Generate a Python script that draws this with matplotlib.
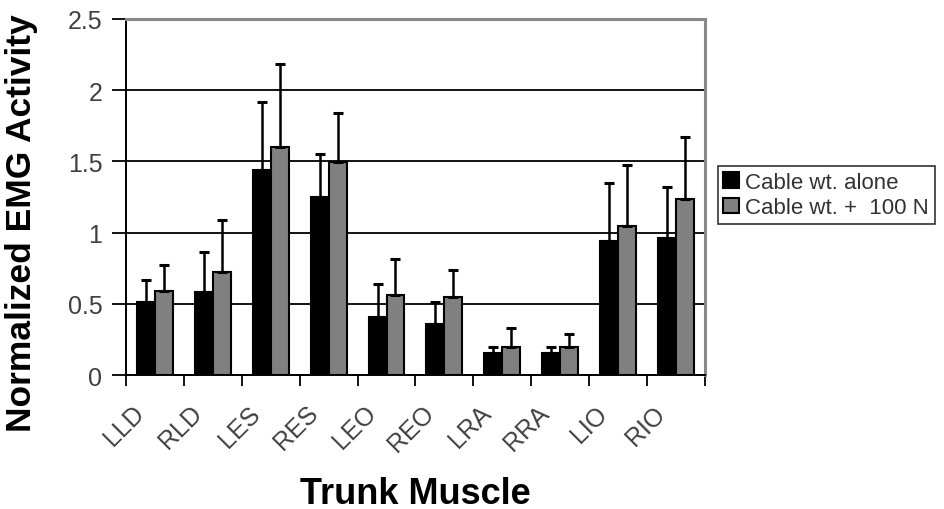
import numpy as np
import matplotlib
matplotlib.use('Agg')
import matplotlib.pyplot as plt
import matplotlib.transforms as mtransforms

plt.rcParams['font.family'] = ['Liberation Sans', 'DejaVu Sans']

muscles = ['LLD', 'RLD', 'LES', 'RES', 'LEO', 'REO', 'LRA', 'RRA', 'LIO', 'RIO']
# mean normalized EMG and upward SD
alone_mean = [0.51, 0.58, 1.44, 1.25, 0.41, 0.36, 0.155, 0.155, 0.94, 0.965]
alone_sd = [0.16, 0.285, 0.48, 0.30, 0.23, 0.15, 0.045, 0.045, 0.405, 0.355]
load_mean = [0.59, 0.725, 1.60, 1.495, 0.56, 0.55, 0.20, 0.20, 1.047, 1.237]
load_sd = [0.18, 0.363, 0.585, 0.345, 0.255, 0.185, 0.133, 0.087, 0.425, 0.435]
series_names = ['Cable wt. alone', 'Cable wt. +  100 N']
yticks = [0, 0.5, 1, 1.5, 2, 2.5]
ytick_labels = ['0', '0.5', '1', '1.5', '2', '2.5']

fig = plt.figure(figsize=(9.45, 5.1), dpi=100)
ax = fig.add_axes([0.1333, 0.2627, 0.6127, 0.6981])

x = np.arange(len(muscles))
w = 0.31
err_kw = dict(ecolor='black', elinewidth=1.8, capsize=3.3, capthick=2.2)

ax.bar(x - w / 2, alone_mean, w, color='black', edgecolor='black', linewidth=1.5,
       yerr=[np.zeros(len(x)), alone_sd], error_kw=err_kw, label=series_names[0], zorder=3)
ax.bar(x + w / 2, load_mean, w, color='#808080', edgecolor='black', linewidth=1.5,
       yerr=[np.zeros(len(x)), load_sd], error_kw=err_kw, label=series_names[1], zorder=3)

ax.set_xlim(-0.5, len(muscles) - 0.5)
ax.set_ylim(0, 2.5)
ax.set_yticks(yticks)
ax.set_yticklabels(ytick_labels)
ax.yaxis.grid(True, color='black', linewidth=1.3, zorder=0)
ax.set_axisbelow(True)

# boundary ticks, labels on category centres
ax.set_xticks(np.arange(len(muscles) + 1) - 0.5)
ax.set_xticklabels([])
ax.set_xticks(x, minor=True)
ax.set_xticklabels(muscles, minor=True, rotation=45, ha='right', rotation_mode='anchor',
                   fontsize=18, color='#404040')
ax.tick_params(axis='x', which='minor', length=0, pad=12)
ax.tick_params(axis='x', which='major', length=8, width=1.3, color='black')
ax.tick_params(axis='y', length=10, width=1.3, labelsize=18, labelcolor='#404040', pad=7)

shift = mtransforms.ScaledTranslation(-0.23, -0.09, fig.dpi_scale_trans)
for lab in ax.get_xticklabels(minor=True):
    lab.set_transform(lab.get_transform() + shift)

for s in ['left', 'bottom']:
    ax.spines[s].set_color('black')
    ax.spines[s].set_linewidth(1.4)
for s in ['top', 'right']:
    ax.spines[s].set_color('#888888')
    ax.spines[s].set_linewidth(2.2)

ax.set_ylabel('Normalized EMG Activity', fontsize=25.5, fontweight='bold')
ax.yaxis.set_label_coords(-0.152, 0.43)
ax.set_xlabel('Trunk Muscle', fontsize=26, fontweight='bold', va='top')
ax.xaxis.set_label_coords(0.5, -0.283)

leg = ax.legend(loc='center left', bbox_to_anchor=(1.022, 0.505), fontsize=16, frameon=True,
                fancybox=False, edgecolor='black', handlelength=0.7, handleheight=0.7,
                handletextpad=0.3, borderpad=0.25, labelspacing=0.2, borderaxespad=0)
leg.get_frame().set_linewidth(1.2)
for t in leg.get_texts():
    t.set_color('#333333')

fig.savefig('out.png', dpi=100)
